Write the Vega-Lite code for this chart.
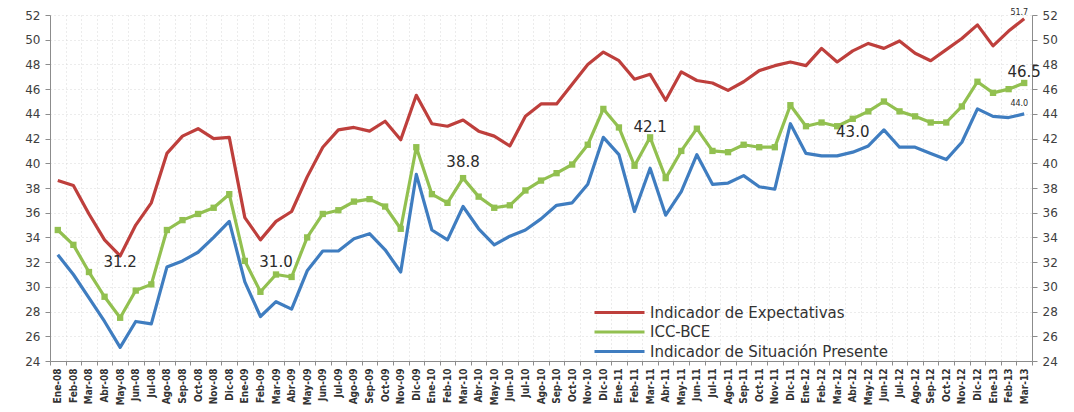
{
  "$schema": "https://vega.github.io/schema/vega-lite/v6.json",
  "width": 982,
  "height": 346,
  "autosize": "none",
  "padding": {"left": 50, "top": 15, "right": 42, "bottom": 51},
  "background": "white",
  "config": {
    "view": {"stroke": null},
    "font": "DejaVu Sans",
    "axis": {"labelFont": "DejaVu Sans", "labelColor": "#404040", "domainColor": "#8c8c8c", "tickColor": "#8c8c8c"}
  },
  "datasets": {
    "serie": [
      {"m":"Ene-08","e":38.6,"i":34.6,"s":32.6},
      {"m":"Feb-08","e":38.2,"i":33.4,"s":31.0},
      {"m":"Mar-08","e":35.9,"i":31.2,"s":29.1},
      {"m":"Abr-08","e":33.8,"i":29.2,"s":27.2},
      {"m":"May-08","e":32.5,"i":27.5,"s":25.1},
      {"m":"Jun-08","e":35.0,"i":29.7,"s":27.2},
      {"m":"Jul-08","e":36.8,"i":30.2,"s":27.0},
      {"m":"Ago-08","e":40.8,"i":34.6,"s":31.6},
      {"m":"Sep-08","e":42.2,"i":35.4,"s":32.1},
      {"m":"Oct-08","e":42.8,"i":35.9,"s":32.8},
      {"m":"Nov-08","e":42.0,"i":36.4,"s":34.0},
      {"m":"Dic-08","e":42.1,"i":37.5,"s":35.3},
      {"m":"Ene-09","e":35.6,"i":32.1,"s":30.4},
      {"m":"Feb-09","e":33.8,"i":29.6,"s":27.6},
      {"m":"Mar-09","e":35.3,"i":31.0,"s":28.8},
      {"m":"Abr-09","e":36.1,"i":30.8,"s":28.2},
      {"m":"May-09","e":38.9,"i":34.0,"s":31.3},
      {"m":"Jun-09","e":41.3,"i":35.9,"s":32.9},
      {"m":"Jul-09","e":42.7,"i":36.2,"s":32.9},
      {"m":"Ago-09","e":42.9,"i":36.9,"s":33.9},
      {"m":"Sep-09","e":42.6,"i":37.1,"s":34.3},
      {"m":"Oct-09","e":43.4,"i":36.5,"s":33.0},
      {"m":"Nov-09","e":41.9,"i":34.7,"s":31.2},
      {"m":"Dic-09","e":45.5,"i":41.3,"s":39.1},
      {"m":"Ene-10","e":43.2,"i":37.5,"s":34.6},
      {"m":"Feb-10","e":43.0,"i":36.8,"s":33.8},
      {"m":"Mar-10","e":43.5,"i":38.8,"s":36.5},
      {"m":"Abr-10","e":42.6,"i":37.3,"s":34.7},
      {"m":"May-10","e":42.2,"i":36.4,"s":33.4},
      {"m":"Jun-10","e":41.4,"i":36.6,"s":34.1},
      {"m":"Jul-10","e":43.8,"i":37.8,"s":34.6},
      {"m":"Ago-10","e":44.8,"i":38.6,"s":35.5},
      {"m":"Sep-10","e":44.8,"i":39.2,"s":36.6},
      {"m":"Oct-10","e":46.4,"i":39.9,"s":36.8},
      {"m":"Nov-10","e":48.0,"i":41.5,"s":38.3},
      {"m":"Dic-10","e":49.0,"i":44.4,"s":42.1},
      {"m":"Ene-11","e":48.3,"i":42.9,"s":40.7},
      {"m":"Feb-11","e":46.8,"i":39.8,"s":36.1},
      {"m":"Mar-11","e":47.2,"i":42.1,"s":39.6},
      {"m":"Abr-11","e":45.1,"i":38.8,"s":35.8},
      {"m":"May-11","e":47.4,"i":41.0,"s":37.7},
      {"m":"Jun-11","e":46.7,"i":42.8,"s":40.7},
      {"m":"Jul-11","e":46.5,"i":41.0,"s":38.3},
      {"m":"Ago-11","e":45.9,"i":40.9,"s":38.4},
      {"m":"Sep-11","e":46.6,"i":41.5,"s":39.0},
      {"m":"Oct-11","e":47.5,"i":41.3,"s":38.1},
      {"m":"Nov-11","e":47.9,"i":41.3,"s":37.9},
      {"m":"Dic-11","e":48.2,"i":44.7,"s":43.2},
      {"m":"Ene-12","e":47.9,"i":43.0,"s":40.8},
      {"m":"Feb-12","e":49.3,"i":43.3,"s":40.6},
      {"m":"Mar-12","e":48.2,"i":43.0,"s":40.6},
      {"m":"Abr-12","e":49.1,"i":43.6,"s":40.9},
      {"m":"May-12","e":49.7,"i":44.2,"s":41.4},
      {"m":"Jun-12","e":49.3,"i":45.0,"s":42.7},
      {"m":"Jul-12","e":49.9,"i":44.2,"s":41.3},
      {"m":"Ago-12","e":48.9,"i":43.8,"s":41.3},
      {"m":"Sep-12","e":48.3,"i":43.3,"s":40.8},
      {"m":"Oct-12","e":49.2,"i":43.3,"s":40.3},
      {"m":"Nov-12","e":50.1,"i":44.6,"s":41.7},
      {"m":"Dic-12","e":51.2,"i":46.6,"s":44.4},
      {"m":"Ene-13","e":49.5,"i":45.7,"s":43.8},
      {"m":"Feb-13","e":50.7,"i":46.0,"s":43.7},
      {"m":"Mar-13","e":51.7,"i":46.5,"s":44.0}
    ],
    "notas": [
      {"m":"May-08","v":32.0,"t":"31.2","k":"g"},
      {"m":"Mar-09","v":32.0,"t":"31.0","k":"g"},
      {"m":"Mar-10","v":40.1,"t":"38.8","k":"g"},
      {"m":"Mar-11","v":42.95,"t":"42.1","k":"g"},
      {"m":"Abr-12","v":42.5,"t":"43.0","k":"g"},
      {"m":"Mar-13","v":47.4,"t":"46.5","k":"g"},
      {"m":"Mar-13","v":52.15,"t":"51.7","k":"p"},
      {"m":"Mar-13","v":44.8,"t":"44.0","k":"p"}
    ]
  },
  "resolve": {"scale": {"y": "independent"}},
  "layer": [
    {
      "data": {"name": "serie"},
      "transform": [{"fold": ["s", "i", "e"], "as": ["serie", "valor"]}],
      "mark": {"type": "line", "strokeWidth": 3.2, "strokeJoin": "round"},
      "encoding": {
        "x": {"field": "m", "type": "nominal", "sort": null, "bandPosition": 0.5,
              "scale": {"type": "band", "paddingInner": 0, "paddingOuter": 0},
              "axis": {"title": null, "labelAngle": -90, "labelAlign": "right", "labelBaseline": "middle",
                       "labelFontSize": 10, "labelFontWeight": "bold", "labelFont": "DejaVu Sans Condensed", "labelColor": "#333",
                       "labelPadding": 3, "tickBand": "extent", "tickSize": 4, "grid": true,
                       "gridColor": "#d9d9d9", "gridDash": [1, 3], "gridWidth": 1, "domainColor": "#8c8c8c"}},
        "y": {"field": "valor", "type": "quantitative",
              "scale": {"domain": [24, 52], "nice": false, "zero": false},
              "axis": {"title": null, "values": [24,26,28,30,32,34,36,38,40,42,44,46,48,50,52],
                       "labelFontSize": 12, "labelPadding": 5, "tickSize": 5,
                       "grid": true, "gridColor": "#d9d9d9", "gridDash": [1, 3]}},
        "color": {"field": "serie", "type": "nominal",
                  "scale": {"domain": ["e", "i", "s"], "range": ["#BE3F3C", "#92C050", "#3F7DC0"]},
                  "legend": {"title": null, "orient": "none", "legendX": 562, "legendY": 290,
                             "symbolType": "M-5,0H5", "symbolSize": 100, "symbolStrokeWidth": 3,
                             "labelOffset": 23, "labelLimit": 500,
                             "labelFontSize": 15, "labelColor": "#333", "labelFont": "DejaVu Sans",
                             "rowPadding": 3.5, "padding": 0,
                             "labelExpr": "datum.value == 'e' ? 'Indicador de Expectativas' : datum.value == 'i' ? 'ICC-BCE' : 'Indicador de Situación Presente'"}}
      }
    },
    {
      "data": {"name": "serie"},
      "mark": {"type": "square", "size": 40, "opacity": 1, "color": "#92C050"},
      "encoding": {
        "x": {"field": "m", "type": "nominal", "sort": null, "bandPosition": 0.5},
        "y": {"field": "i", "type": "quantitative", "scale": {"domain": [24, 52], "nice": false, "zero": false}, "axis": null}
      }
    },
    {
      "data": {"name": "notas"},
      "transform": [{"filter": "datum.k == 'g'"}],
      "mark": {"type": "text", "fontSize": 15, "color": "#2b2b2b", "font": "DejaVu Sans", "align": "center", "baseline": "middle"},
      "encoding": {
        "x": {"field": "m", "type": "nominal", "sort": null, "bandPosition": 0.5},
        "y": {"field": "v", "type": "quantitative", "scale": {"domain": [24, 52], "nice": false, "zero": false},
              "axis": {"orient": "right", "title": null, "values": [24,26,28,30,32,34,36,38,40,42,44,46,48,50,52],
                       "labelFontSize": 12, "labelPadding": 5, "tickSize": 5, "grid": false}},
        "text": {"field": "t"}
      }
    },
    {
      "data": {"name": "notas"},
      "transform": [{"filter": "datum.k == 'p'"}],
      "mark": {"type": "text", "fontSize": 8, "color": "#2b2b2b", "font": "DejaVu Sans", "align": "right", "baseline": "middle", "dx": 4},
      "encoding": {
        "x": {"field": "m", "type": "nominal", "sort": null, "bandPosition": 0.5},
        "y": {"field": "v", "type": "quantitative", "scale": {"domain": [24, 52], "nice": false, "zero": false}, "axis": null},
        "text": {"field": "t"}
      }
    }
  ]
}
